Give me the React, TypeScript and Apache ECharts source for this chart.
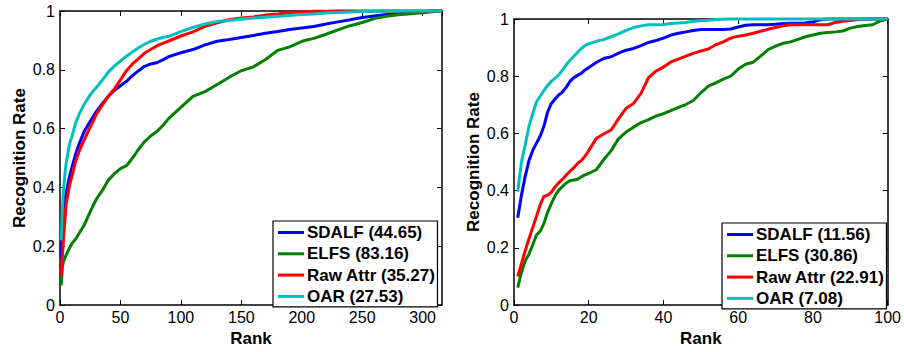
import React, { useEffect, useRef } from "react";
import * as echarts from "echarts";

// ---------- Left chart (ranks 1..316) ----------
const leftRanks = [1, 2, 3, 5, 8, 10, 13, 16, 20, 25, 30, 35, 40, 45, 50, 55, 60, 65, 70, 75, 80, 85, 90, 100, 110, 120, 130, 140, 150, 160, 170, 180, 190, 200, 210, 220, 230, 240, 250, 260, 270, 280, 290, 300, 310, 316];
const leftSdalf = [0.16, 0.26, 0.31, 0.38, 0.44, 0.47, 0.515, 0.55, 0.59, 0.625, 0.658, 0.685, 0.71, 0.73, 0.746, 0.761, 0.78, 0.797, 0.812, 0.82, 0.824, 0.834, 0.845, 0.858, 0.869, 0.885, 0.897, 0.903, 0.91, 0.917, 0.924, 0.93, 0.937, 0.942, 0.947, 0.956, 0.963, 0.97, 0.978, 0.983, 0.988, 0.991, 0.996, 0.998, 1.0, 1.0];
const leftElfs = [0.067, 0.13, 0.15, 0.17, 0.195, 0.21, 0.225, 0.245, 0.272, 0.318, 0.36, 0.39, 0.425, 0.447, 0.464, 0.474, 0.5, 0.53, 0.556, 0.575, 0.59, 0.61, 0.635, 0.672, 0.71, 0.726, 0.75, 0.775, 0.797, 0.81, 0.835, 0.866, 0.878, 0.897, 0.907, 0.921, 0.936, 0.95, 0.961, 0.974, 0.982, 0.987, 0.991, 0.994, 0.998, 1.0];
const leftRaw = [0.1, 0.17, 0.23, 0.34, 0.41, 0.44, 0.49, 0.525, 0.562, 0.605, 0.648, 0.68, 0.71, 0.735, 0.766, 0.797, 0.82, 0.838, 0.857, 0.869, 0.881, 0.89, 0.898, 0.915, 0.929, 0.948, 0.96, 0.97, 0.976, 0.98, 0.986, 0.99, 0.995, 0.997, 0.999, 0.999, 1.0, 1.0, 1.0, 1.0, 1.0, 1.0, 1.0, 1.0, 1.0, 1.0];
const leftOar = [0.22, 0.33, 0.4, 0.48, 0.55, 0.575, 0.62, 0.65, 0.683, 0.715, 0.74, 0.765, 0.792, 0.813, 0.83, 0.846, 0.861, 0.875, 0.887, 0.897, 0.904, 0.91, 0.914, 0.93, 0.944, 0.956, 0.964, 0.968, 0.972, 0.976, 0.979, 0.982, 0.985, 0.988, 0.99, 0.993, 0.995, 0.997, 0.998, 0.999, 1.0, 1.0, 1.0, 1.0, 1.0, 1.0];
const leftNames = ["SDALF (44.65)", "ELFS (83.16)", "Raw Attr (35.27)", "OAR (27.53)"];

// ---------- Right chart (ranks 1..100) ----------
const rightRanks = [1, 2, 3, 4, 5, 6, 7, 8, 9, 10, 11, 12, 13, 14, 15, 16, 17, 18, 19, 20, 22, 24, 26, 28, 30, 32, 34, 36, 38, 40, 42, 44, 46, 48, 50, 52, 54, 56, 58, 60, 62, 64, 66, 68, 70, 72, 74, 76, 78, 80, 82, 84, 86, 88, 90, 92, 94, 96, 98, 100];
const rightSdalf = [0.305, 0.385, 0.45, 0.505, 0.54, 0.566, 0.59, 0.625, 0.675, 0.705, 0.72, 0.735, 0.745, 0.762, 0.782, 0.795, 0.803, 0.81, 0.822, 0.83, 0.848, 0.862, 0.868, 0.881, 0.891, 0.897, 0.907, 0.918, 0.925, 0.933, 0.944, 0.95, 0.955, 0.96, 0.963, 0.963, 0.963, 0.963, 0.965, 0.972, 0.978, 0.98, 0.98, 0.98, 0.982, 0.984, 0.985, 0.985, 0.986, 0.99, 0.997, 1.0, 1.0, 1.0, 1.0, 1.0, 1.0, 1.0, 1.0, 1.0];
const rightElfs = [0.061, 0.115, 0.155, 0.178, 0.21, 0.245, 0.258, 0.285, 0.325, 0.355, 0.383, 0.402, 0.415, 0.427, 0.435, 0.437, 0.44, 0.448, 0.455, 0.46, 0.473, 0.508, 0.54, 0.582, 0.605, 0.622, 0.638, 0.648, 0.661, 0.669, 0.68, 0.691, 0.701, 0.715, 0.742, 0.765, 0.777, 0.79, 0.8, 0.825, 0.842, 0.849, 0.87, 0.893, 0.905, 0.915, 0.92, 0.929, 0.938, 0.944, 0.95, 0.953, 0.955, 0.958, 0.968, 0.974, 0.977, 0.98, 0.993, 1.0];
const rightRaw = [0.1, 0.145, 0.19, 0.232, 0.27, 0.31, 0.35, 0.38, 0.384, 0.395, 0.413, 0.428, 0.44, 0.455, 0.468, 0.48, 0.495, 0.505, 0.52, 0.54, 0.582, 0.598, 0.612, 0.652, 0.688, 0.705, 0.74, 0.795, 0.818, 0.832, 0.85, 0.86, 0.87, 0.88, 0.888, 0.895, 0.91, 0.92, 0.933, 0.94, 0.944, 0.95, 0.957, 0.964, 0.97, 0.976, 0.98, 0.98, 0.98, 0.98, 0.98, 0.98, 0.988, 0.992, 0.995, 0.998, 1.0, 1.0, 1.0, 1.0];
const rightOar = [0.396, 0.5, 0.56, 0.625, 0.668, 0.71, 0.73, 0.75, 0.768, 0.782, 0.793, 0.805, 0.822, 0.84, 0.856, 0.87, 0.883, 0.897, 0.907, 0.913, 0.922, 0.928, 0.938, 0.948, 0.96, 0.97, 0.976, 0.98, 0.98, 0.981, 0.984, 0.986, 0.988, 0.992, 0.994, 0.996, 0.998, 0.999, 1.0, 1.0, 1.0, 1.0, 1.0, 1.0, 1.0, 1.0, 1.0, 1.0, 1.0, 1.0, 1.0, 1.0, 1.0, 1.0, 1.0, 1.0, 1.0, 1.0, 1.0, 1.0];
const rightNames = ["SDALF (11.56)", "ELFS (30.86)", "Raw Attr (22.91)", "OAR (7.08)"];

const colors = ["#0000ff", "#008000", "#ff0000", "#00bfbf"];
const FONT = "Liberation Sans, Arial, sans-serif";

function pairs(xs: number[], ys: number[]) {
  return xs.map((x, i) => [x, ys[i]]);
}

function makeX(grid: number, max: number, interval: number, top: boolean, withName: boolean) {
  return {
    type: "value",
    gridIndex: grid,
    position: top ? "top" : "bottom",
    min: 0,
    max,
    interval,
    name: withName ? "Rank" : "",
    nameLocation: "middle",
    nameGap: 20,
    nameTextStyle: { fontFamily: FONT, fontWeight: "bold", fontSize: 17, color: "#000" },
    axisLine: { show: true, onZero: false, lineStyle: { color: "#000", width: 1.5 } },
    axisTick: { show: true, inside: true, length: 5, lineStyle: { color: "#000", width: 1 } },
    axisLabel: { show: !top, margin: 4, fontFamily: FONT, fontSize: 16, color: "#000", showMaxLabel: max === 100 },
    splitLine: { show: false },
  };
}

function makeY(grid: number, right: boolean) {
  return {
    type: "value",
    gridIndex: grid,
    position: right ? "right" : "left",
    min: 0,
    max: 1,
    interval: 0.2,
    name: right ? "" : "Recognition Rate",
    nameLocation: "middle",
    nameGap: 32,
    nameTextStyle: { fontFamily: FONT, fontWeight: "bold", fontSize: 17, color: "#000" },
    axisLine: { show: true, onZero: false, lineStyle: { color: "#000", width: 1.5 } },
    axisTick: { show: true, inside: true, length: 5, lineStyle: { color: "#000", width: 1 } },
    axisLabel: { show: !right, margin: 5, fontFamily: FONT, fontSize: 16, color: "#000" },
    splitLine: { show: false },
  };
}

function makeSeries(names: string[], xs: number[], data: number[][], xi: number, yi: number) {
  return names.map((n, i) => ({
    name: n,
    type: "line",
    xAxisIndex: xi,
    yAxisIndex: yi,
    data: pairs(xs, data[i]),
    showSymbol: false,
    symbol: "none",
    clip: false,
    lineStyle: { color: colors[i], width: 3 },
    itemStyle: { color: colors[i] },
  }));
}

function makeLegend(names: string[], left: number, top: number) {
  return {
    data: names,
    orient: "vertical",
    left,
    top,
    icon: "rect",
    itemWidth: 26,
    itemHeight: 3,
    itemGap: 4.3,
    padding: [3, 2, 2, 5],
    backgroundColor: "#fff",
    borderColor: "#000",
    borderWidth: 1.2,
    borderRadius: 0,
    selectedMode: false,
    textStyle: { fontFamily: FONT, fontWeight: "bold", fontSize: 17, lineHeight: 17, color: "#000", padding: [0, 0, 0, -2] },
  };
}

export default function App() {
  const ref = useRef<HTMLDivElement>(null);
  useEffect(() => {
    if (!ref.current) return;
    const chart = echarts.init(ref.current, undefined, { renderer: "svg" });
    chart.setOption({
      animation: false,
      textStyle: { fontFamily: FONT },
      grid: [
        { left: 60, top: 11, width: 382, height: 301, show: false },
        { left: 514, top: 19, width: 374, height: 294, show: false },
      ],
      xAxis: [
        makeX(0, 316, 50, false, true),
        makeX(0, 316, 50, true, false),
        makeX(1, 100, 20, false, true),
        makeX(1, 100, 20, true, false),
      ],
      yAxis: [makeY(0, false), makeY(0, true), makeY(1, false), makeY(1, true)],
      legend: [makeLegend(leftNames, 273, 221), makeLegend(rightNames, 722, 223)],
      series: [
        ...makeSeries(leftNames, leftRanks, [leftSdalf, leftElfs, leftRaw, leftOar], 0, 0),
        ...makeSeries(rightNames, rightRanks, [rightSdalf, rightElfs, rightRaw, rightOar], 2, 2),
      ],
    });
    return () => chart.dispose();
  }, []);
  return (
    <div
      ref={ref}
      style={{ position: "absolute", left: 0, top: 0, width: 904, height: 352, background: "#fff" }}
    />
  );
}
